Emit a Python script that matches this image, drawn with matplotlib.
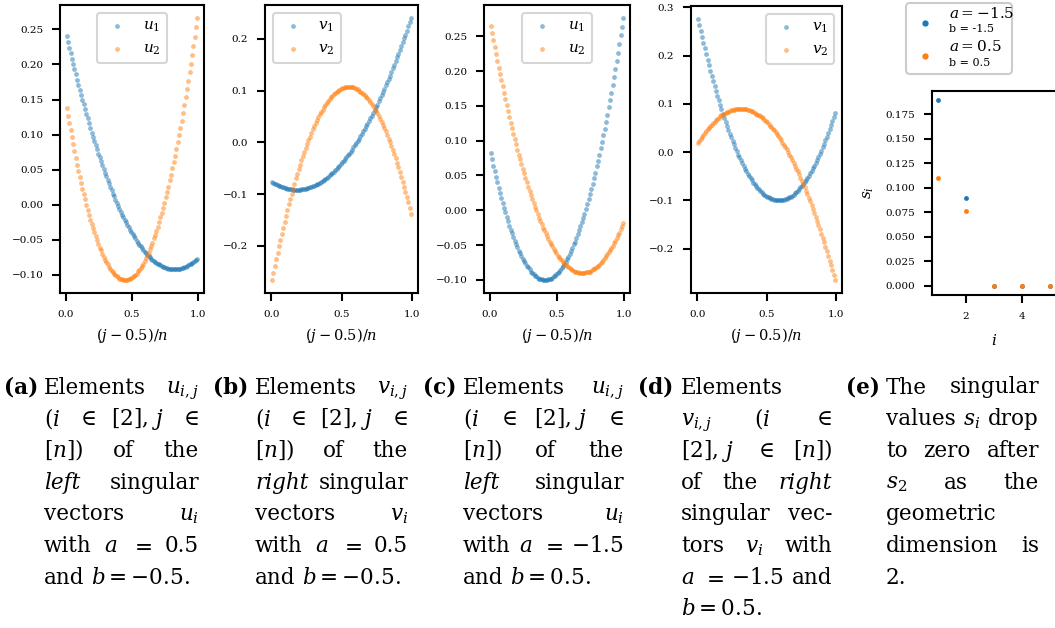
import matplotlib

matplotlib.use("Agg")
import matplotlib.pyplot as plt
import numpy as np
from matplotlib.lines import Line2D
from matplotlib.patches import FancyBboxPatch
from matplotlib.ticker import MultipleLocator
from matplotlib.transforms import IdentityTransform

plt.rcParams["font.family"] = ["DejaVu Serif"]
plt.rcParams["mathtext.fontset"] = "dejavuserif"

W, H = 1055, 628
BLUE = "#1f77b4"
ORANGE = "#ff7f0e"

# j = 1..n, plotted at (j - 0.5) / n ; values below are in thousandths
n = 100

# (a) left singular vectors, a = 0.5, b = -0.5
a_u1 = [240, 232, 224, 216, 208, 201, 193, 186, 178, 171,
        164, 157, 150, 143, 136, 129, 123, 116, 110, 103,
        97, 91, 85, 79, 73, 68, 62, 57, 51, 46,
        41, 36, 31, 26, 21, 16, 12, 7, 3, -2,
        -6, -10, -14, -18, -22, -25, -29, -32, -36, -39,
        -42, -45, -48, -51, -54, -57, -59, -62, -64, -67,
        -69, -71, -73, -75, -77, -78, -80, -81, -83, -84,
        -85, -86, -87, -88, -89, -90, -90, -91, -91, -92,
        -92, -92, -92, -92, -92, -91, -91, -90, -90, -89,
        -88, -87, -86, -85, -84, -83, -81, -80, -78, -77]
a_u2 = [138, 127, 116, 106, 96, 86, 76, 67, 57, 48,
        40, 31, 23, 15, 8, 0, -7, -14, -21, -27,
        -33, -39, -45, -50, -56, -61, -65, -70, -74, -78,
        -81, -85, -88, -91, -94, -96, -98, -100, -102, -103,
        -105, -106, -106, -107, -107, -107, -107, -106, -105, -104,
        -103, -101, -100, -98, -95, -93, -90, -87, -84, -80,
        -76, -72, -68, -63, -59, -54, -48, -43, -37, -31,
        -25, -18, -11, -4, 3, 11, 18, 26, 35, 43,
        52, 61, 70, 80, 90, 100, 110, 120, 131, 142,
        154, 165, 177, 189, 201, 214, 226, 239, 253, 266]

# (b) right singular vectors, a = 0.5, b = -0.5
b_v1 = [-77, -78, -80, -81, -83, -84, -85, -86, -87, -88,
        -89, -90, -90, -91, -91, -92, -92, -92, -92, -92,
        -92, -91, -91, -90, -90, -89, -88, -87, -86, -85,
        -84, -83, -81, -80, -78, -77, -75, -73, -71, -69,
        -67, -64, -62, -59, -57, -54, -51, -48, -45, -42,
        -39, -36, -32, -29, -25, -22, -18, -14, -10, -6,
        -2, 3, 7, 12, 16, 21, 26, 31, 36, 41,
        46, 51, 57, 62, 68, 73, 79, 85, 91, 97,
        103, 110, 116, 123, 129, 136, 143, 150, 157, 164,
        171, 178, 186, 193, 201, 208, 216, 224, 232, 240]
b_v2 = [-266, -253, -239, -226, -214, -201, -189, -177, -165, -154,
        -142, -131, -120, -110, -100, -90, -80, -70, -61, -52,
        -43, -35, -26, -18, -11, -3, 4, 11, 18, 25,
        31, 37, 43, 48, 54, 59, 63, 68, 72, 76,
        80, 84, 87, 90, 93, 95, 98, 100, 101, 103,
        104, 105, 106, 107, 107, 107, 107, 106, 106, 105,
        103, 102, 100, 98, 96, 94, 91, 88, 85, 81,
        78, 74, 70, 65, 61, 56, 50, 45, 39, 33,
        27, 21, 14, 7, 0, -8, -15, -23, -31, -40,
        -48, -57, -67, -76, -86, -96, -106, -116, -127, -138]

# (c) left singular vectors, a = -1.5, b = 0.5
c_u1 = [82, 73, 64, 56, 48, 40, 32, 25, 17, 10,
        3, -3, -10, -16, -22, -28, -33, -39, -44, -49,
        -53, -58, -62, -66, -70, -73, -76, -80, -82, -85,
        -88, -90, -92, -94, -95, -97, -98, -99, -99, -100,
        -100, -100, -100, -99, -99, -98, -97, -95, -94, -92,
        -90, -88, -86, -83, -80, -77, -74, -70, -67, -63,
        -58, -54, -49, -45, -40, -34, -29, -23, -17, -11,
        -5, 2, 9, 16, 23, 31, 38, 46, 54, 63,
        71, 80, 89, 98, 108, 117, 127, 137, 148, 158,
        169, 180, 191, 203, 215, 226, 239, 251, 263, 276]
c_u2 = [265, 255, 244, 234, 225, 215, 205, 196, 187, 178,
        169, 160, 151, 143, 134, 126, 118, 110, 102, 95,
        87, 80, 73, 66, 59, 53, 46, 40, 34, 28,
        22, 16, 10, 5, 0, -6, -11, -15, -20, -25,
        -29, -33, -37, -41, -45, -49, -52, -55, -59, -62,
        -65, -67, -70, -72, -74, -77, -78, -80, -82, -83,
        -85, -86, -87, -88, -89, -89, -90, -90, -90, -90,
        -90, -89, -89, -88, -88, -87, -85, -84, -83, -81,
        -80, -78, -76, -74, -71, -69, -66, -63, -60, -57,
        -54, -51, -47, -44, -40, -36, -32, -27, -23, -18]

# (d) right singular vectors, a = -1.5, b = 0.5
d_v1 = [276, 263, 251, 239, 226, 215, 203, 191, 180, 169,
        158, 148, 137, 127, 117, 108, 98, 89, 80, 71,
        63, 54, 46, 38, 31, 23, 16, 9, 2, -5,
        -11, -17, -23, -29, -34, -40, -45, -49, -54, -58,
        -63, -67, -70, -74, -77, -80, -83, -86, -88, -90,
        -92, -94, -95, -97, -98, -99, -99, -100, -100, -100,
        -100, -99, -99, -98, -97, -95, -94, -92, -90, -88,
        -85, -82, -80, -76, -73, -70, -66, -62, -58, -53,
        -49, -44, -39, -33, -28, -22, -16, -10, -3, 3,
        10, 17, 25, 32, 40, 48, 56, 64, 73, 82]
d_v2 = [18, 23, 27, 32, 36, 40, 44, 47, 51, 54,
        57, 60, 63, 66, 69, 71, 74, 76, 78, 80,
        81, 83, 84, 85, 87, 88, 88, 89, 89, 90,
        90, 90, 90, 90, 89, 89, 88, 87, 86, 85,
        83, 82, 80, 78, 77, 74, 72, 70, 67, 65,
        62, 59, 55, 52, 49, 45, 41, 37, 33, 29,
        25, 20, 15, 11, 6, 0, -5, -10, -16, -22,
        -28, -34, -40, -46, -53, -59, -66, -73, -80, -87,
        -95, -102, -110, -118, -126, -134, -143, -151, -160, -169,
        -178, -187, -196, -205, -215, -225, -234, -244, -255, -265]

# (e) singular values
sv_index = [1, 2, 3, 4, 5]
sv_first = [0.189, 0.089, 0.0, 0.0, 0.0]
sv_second = [0.110, 0.076, 0.0, 0.0, 0.0]
sv_labels = [("$a=-1.5$", "b = -1.5"), ("$a=0.5$", "b = 0.5")]

panel_series = [(a_u1, a_u2), (b_v1, b_v2), (c_u1, c_u2), (d_v1, d_v2)]
panel_names = [("$u_1$", "$u_2$"), ("$v_1$", "$v_2$"),
               ("$u_1$", "$u_2$"), ("$v_1$", "$v_2$")]

captions = [
    [["Elements", "$u_{i,j}$"],
     ["$(i$", "$\\in$", "$[2],\\,j$", "$\\in$"],
     ["$[n])$", "of", "the"],
     ["*left*", "singular"],
     ["vectors", "$u_i$"],
     ["with", "$a$", "$=$", "0.5"],
     ["and", "$b=-0.5$."]],
    [["Elements", "$v_{i,j}$"],
     ["$(i$", "$\\in$", "$[2],\\,j$", "$\\in$"],
     ["$[n])$", "of", "the"],
     ["*right*", "singular"],
     ["vectors", "$v_i$"],
     ["with", "$a$", "$=$", "0.5"],
     ["and", "$b=-0.5$."]],
    [["Elements", "$u_{i,j}$"],
     ["$(i$", "$\\in$", "$[2],\\,j$", "$\\in$"],
     ["$[n])$", "of", "the"],
     ["*left*", "singular"],
     ["vectors", "$u_i$"],
     ["with", "$a$", "$=$", "$-1.5$"],
     ["and", "$b=0.5$."]],
    [["Elements"],
     ["$v_{i,j}$", "$(i$", "$\\in$"],
     ["$[2],\\,j$", "$\\in$", "$[n])$"],
     ["of", "the", "*right*"],
     ["singular", "vec-"],
     ["tors", "$v_i$", "with"],
     ["$a$", "$=$", "$-1.5$", "and"],
     ["$b=0.5$."]],
    [["The", "singular"],
     ["values", "$s_i$", "drop"],
     ["to", "zero", "after"],
     ["$s_2$", "as", "the"],
     ["geometric"],
     ["dimension", "is"],
     ["2."]],
]
caption_tags = ["(a)", "(b)", "(c)", "(d)", "(e)"]

# layout in pixels (left, top, right, bottom)
panel_boxes = [(60, 5, 204, 293), (265, 5, 418, 293),
               (484, 5, 630, 293), (691, 6, 842, 293)]
legend_locs = ["upper center", "upper left", "upper center", "upper right"]
y_steps = [0.05, 0.1, 0.05, 0.1]
tag_x = [4, 213, 423, 638, 846]
text_left = [44, 255, 463, 681, 886]
text_right = [199, 408, 624, 832, 1039]
BASE_Y = 393.5
LINE_STEP = 31.7
CAP_SIZE = 15.5


def axes_px(left, top, right, bottom):
    return fig.add_axes([left / W, 1 - bottom / H, (right - left) / W, (bottom - top) / H])


def style_axes(ax):
    for spine in ax.spines.values():
        spine.set_linewidth(1.5)
    ax.tick_params(length=6, width=1.5, labelsize=7.5, pad=6)


fig = plt.figure(figsize=(W / 100, H / 100), dpi=100)
j = np.arange(1, n + 1)
x = (j - 0.5) / n

for box, (s1, s2), names, loc, step in zip(panel_boxes, panel_series,
                                            panel_names, legend_locs, y_steps):
    ax = axes_px(*box)
    ax.scatter(x, np.array(s1) / 1000, s=12, color=BLUE, alpha=0.5,
               linewidths=0, label=names[0])
    ax.scatter(x, np.array(s2) / 1000, s=12, color=ORANGE, alpha=0.5,
               linewidths=0, label=names[1])
    ax.xaxis.set_major_locator(MultipleLocator(0.5))
    ax.yaxis.set_major_locator(MultipleLocator(step))
    ax.set_xlabel("$(j-0.5)/n$", fontsize=10.5, labelpad=5)
    style_axes(ax)
    leg = ax.legend(loc=loc, fontsize=11, borderpad=0.4, handletextpad=0.8,
                    handlelength=1.8)
    leg.get_frame().set_linewidth(1.5)

ax_e = axes_px(932, 91, 1056, 295)
ax_e.scatter(sv_index, sv_first, s=12, color=BLUE, linewidths=0)
ax_e.scatter(sv_index, sv_second, s=12, color=ORANGE, linewidths=0)
ax_e.xaxis.set_major_locator(MultipleLocator(2))
ax_e.yaxis.set_major_locator(MultipleLocator(0.025))
ax_e.set_xlabel("$i$", fontsize=11, labelpad=9)
ax_e.set_ylabel("$s_i$", fontsize=11, labelpad=7)
style_axes(ax_e)

# legend for panel (e), drawn above its axes
box = FancyBboxPatch((906, H - 74), 106, 71, boxstyle="round,pad=0,rounding_size=4",
                     transform=IdentityTransform(), facecolor="white",
                     edgecolor="0.8", linewidth=1.5)
fig.add_artist(box)
for (math_lab, plain_lab), color, yc in zip(sv_labels, [BLUE, ORANGE], [21, 54]):
    fig.add_artist(Line2D([925], [H - yc - 2], marker="o", markersize=3.5,
                          color=color, linestyle="none",
                          transform=IdentityTransform()))
    fig.text(949 / W, 1 - (yc - 7.5) / H, math_lab, fontsize=11, va="center")
    fig.text(949 / W, 1 - (yc + 8.5) / H, plain_lab, fontsize=8, va="center")

# captions, justified line by line
renderer = fig.canvas.get_renderer()
space = 0.318 * CAP_SIZE * 100 / 72

for k, lines in enumerate(captions):
    fig.text(tag_x[k] / W, 1 - BASE_Y / H, caption_tags[k], fontsize=CAP_SIZE,
             fontweight="bold", va="baseline")
    for row, tokens in enumerate(lines):
        y = BASE_Y + row * LINE_STEP
        texts = []
        for tok in tokens:
            style = "normal"
            if tok.startswith("*") and tok.endswith("*"):
                tok, style = tok[1:-1], "italic"
            texts.append(fig.text(0, 0, tok, fontsize=CAP_SIZE,
                                  fontstyle=style, va="baseline"))
        widths = [t.get_window_extent(renderer=renderer).width for t in texts]
        last = row == len(lines) - 1
        if not last and len(texts) > 1:
            gap = (text_right[k] - text_left[k] - sum(widths)) / (len(texts) - 1)
        else:
            gap = space
        pos = text_left[k]
        for t, w in zip(texts, widths):
            t.set_position((pos / W, 1 - y / H))
            pos += w + gap

fig.savefig("out.png", dpi=100)
